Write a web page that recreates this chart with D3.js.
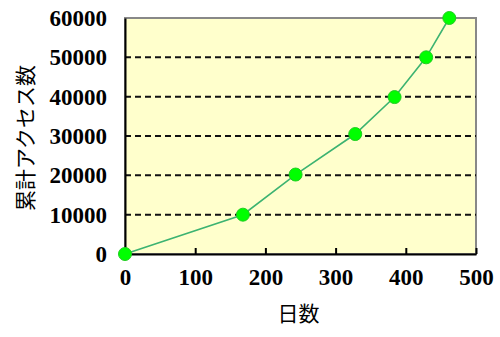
<!DOCTYPE html>
<html>
<head>
<meta charset="utf-8">
<script src="https://cdn.jsdelivr.net/npm/d3@7"></script>
<style>
  body { margin: 0; background: #fff; }
  svg { display: block; }
</style>
</head>
<body>
<div id="chart"></div>
<script>
// 日数 vs 累計アクセス数
var days = [0, 168, 243, 328, 384, 429, 462];
var access = [0, 10000, 20200, 30500, 39900, 50000, 60000];
var xTicks = [0, 100, 200, 300, 400, 500];
var yTicks = [0, 10000, 20000, 30000, 40000, 50000, 60000];

var width = 500,
    height = 337,
    plotL = 125, plotR = 476, plotT = 18, plotB = 254;

var x = d3.scaleLinear().domain([0, 500]).range([plotL, plotR]),
    y = d3.scaleLinear().domain([0, 60000]).range([plotB, plotT]);

var svg = d3.select("#chart").append("svg")
    .attr("width", width)
    .attr("height", height);

// plot background
svg.append("rect")
    .attr("x", plotL).attr("y", plotT)
    .attr("width", plotR - plotL).attr("height", plotB - plotT)
    .attr("fill", "#ffffcc")
    .attr("stroke", "#888").attr("stroke-width", 2);

// dashed grid
svg.selectAll("line.grid")
    .data(yTicks.filter(function(d) { return d > 0 && d < 60000; }))
  .enter().append("line")
    .attr("class", "grid")
    .attr("x1", plotL).attr("x2", plotR)
    .attr("y1", function(d) { return y(d); })
    .attr("y2", function(d) { return y(d); })
    .attr("stroke", "#111")
    .attr("stroke-width", 2)
    .attr("stroke-dasharray", "6,4");

// axes
var fmt = d3.format("d");
var xAxis = svg.append("g")
    .attr("transform", "translate(0," + plotB + ")")
    .call(d3.axisBottom(x).tickValues(xTicks).tickFormat(fmt).tickSizeInner(-6).tickSizeOuter(0).tickPadding(15));
var yAxis = svg.append("g")
    .attr("transform", "translate(" + plotL + ",0)")
    .call(d3.axisLeft(y).tickValues(yTicks).tickFormat(fmt).tickSize(0).tickPadding(18));

[xAxis, yAxis].forEach(function(g) {
  g.select(".domain").attr("stroke", "#000").attr("stroke-width", 2);
  g.selectAll(".tick line").attr("stroke", "#000").attr("stroke-width", 2);
  g.selectAll("text")
      .attr("fill", "#000")
      .style("font-family", "'Liberation Serif', serif")
      .style("font-weight", "bold")
      .style("font-size", "23px");
});
xAxis.selectAll(".tick line").filter(function(d) { return d === 0; }).remove();

// line
var line = d3.line()
    .x(function(d, i) { return x(days[i]); })
    .y(function(d) { return y(d); });

svg.append("path")
    .datum(access)
    .attr("d", line)
    .attr("fill", "none")
    .attr("stroke", "#3cb371")
    .attr("stroke-width", 1.6);

svg.selectAll("circle.pt")
    .data(access)
  .enter().append("circle")
    .attr("class", "pt")
    .attr("cx", function(d, i) { return x(days[i]); })
    .attr("cy", function(d) { return y(d); })
    .attr("r", 6.5)
    .attr("fill", "#00ff00")
    .attr("stroke", "#22cc22")
    .attr("stroke-width", 1);

// axis titles
svg.append("text")
    .attr("x", (plotL + plotR) / 2 - 2)
    .attr("y", 321)
    .attr("text-anchor", "middle")
    .style("font-family", "'Noto Sans CJK JP', sans-serif")
    .style("font-size", "21px")
    .text("日数");

svg.append("text")
    .attr("transform", "translate(33,138) rotate(-90)")
    .attr("text-anchor", "middle")
    .style("font-family", "'Noto Sans CJK JP', sans-serif")
    .style("font-size", "21px")
    .text("累計アクセス数");
</script>
</body>
</html>
